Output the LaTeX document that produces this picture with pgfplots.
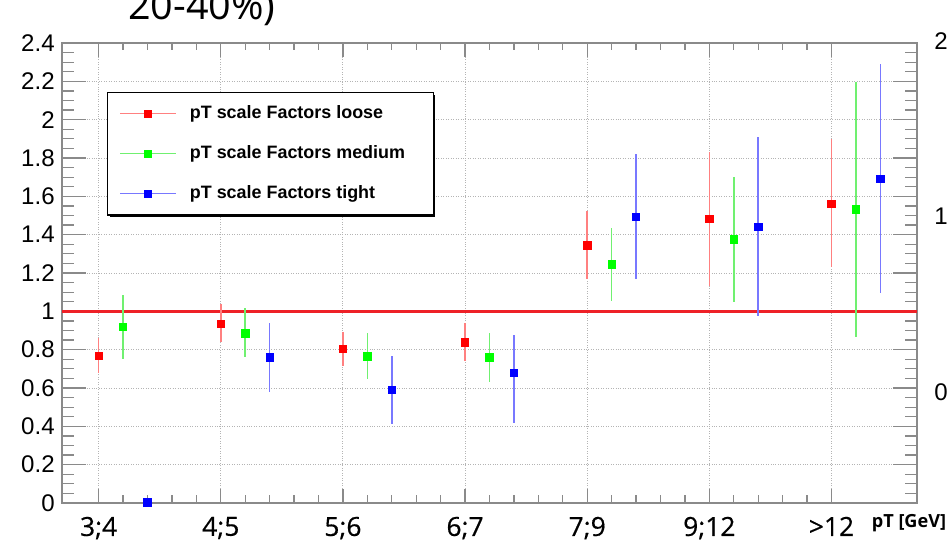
\documentclass[border=0pt]{standalone}
\usepackage{pgfplots}
\pgfplotsset{compat=1.18}
\usepackage{pgfplotstable}
\usepackage{fontspec}
\setmainfont{Liberation Sans}
\newfontfamily\osans{Open Sans}
\newfontfamily\osxlab[FakeBold=0.5]{Open Sans}

\definecolor{framegray}{HTML}{8A8A8A}
\definecolor{gridgray}{HTML}{B4B4B4}
\definecolor{lineRed}{HTML}{EE2127}
\definecolor{rootred}{HTML}{FF0000}
\definecolor{rootgreen}{HTML}{00FF00}
\definecolor{rootblue}{HTML}{0000FF}
\definecolor{barred}{HTML}{FF8080}
\definecolor{bargreen}{HTML}{70F070}
\definecolor{barblue}{HTML}{7878FF}

% x: category index (3;4 = 0), red at i, green at i+0.2, blue at i+0.4
\pgfplotstableread{
x    y     ep    em
0.0  0.767 0.092 0.087
1.0  0.935 0.103 0.097
2.0  0.805 0.089 0.089
3.0  0.838 0.099 0.097
4.0  1.344 0.179 0.177
5.0  1.481 0.348 0.349
6.0  1.560 0.339 0.330
}\loose
\pgfplotstableread{
x    y     ep    em
0.2  0.918 0.167 0.168
1.2  0.885 0.130 0.125
2.2  0.765 0.120 0.116
3.2  0.760 0.125 0.130
4.2  1.245 0.188 0.190
5.2  1.376 0.323 0.327
6.2  1.532 0.663 0.664
}\medium
\pgfplotstableread{
x    y     ep    em
0.4  0.003 0.0   0.0
1.4  0.760 0.177 0.183
2.4  0.589 0.176 0.177
3.4  0.680 0.196 0.261
4.4  1.494 0.325 0.327
5.4  1.442 0.469 0.466
6.4  1.690 0.598 0.596
}\tight

\begin{document}
\begin{tikzpicture}
\begin{axis}[
  scale only axis,
  width=17.1cm, height=9.2cm,
  clip=false,
  xmin=-0.3, xmax=6.7,
  ymin=0, ymax=2.4,
  xtick={0,1,2,3,4,5,6},
  xticklabels={3;4,4;5,5;6,6;7,7;9,9;12,>12},
  minor x tick num=4,
  ytick={0,0.2,...,2.4},
  yticklabels={0,0.2,0.4,0.6,0.8,1,1.2,1.4,1.6,1.8,2,2.2,2.4},
  minor y tick num=3,
  tick align=inside,
  axis line style={framegray, line width=0.9pt},
  every tick/.style={framegray, line width=0.7pt},
  x tick style={/pgfplots/major tick length=0.28cm, /pgfplots/minor tick length=0.15cm},
  y tick style={/pgfplots/major tick length=0.48cm, /pgfplots/minor tick length=0.24cm},
  grid=major,
  major grid style={gridgray, densely dotted, line width=0.5pt},
  yticklabel style={font=\fontsize{13.7}{16}\selectfont, inner xsep=0.14cm, inner ysep=0pt},
  xticklabel style={font=\osxlab\fontsize{15}{18}\selectfont, inner ysep=0pt, yshift=-0.27cm, text depth=0pt},
  xlabel={pT [GeV]},
  every axis x label/.style={at={(axis description cs:0.9906,-0.0435)}, anchor=center,
    font=\osans\bfseries\fontsize{10.3}{12}\selectfont},
  legend style={at={(0.0526,0.8935)}, anchor=north west,
    draw=black, line width=0.6pt, fill=white,
    inner xsep=0.24cm, inner ysep=0.25cm,
    font=\bfseries\fontsize{10.2}{12}\selectfont,
    nodes={inner sep=0pt, text height=0.27cm, text depth=0.08cm},
    row sep=0.45cm, column sep=0.26cm},
  legend cell align=left,
  error bars/y dir=both,
  error bars/y explicit,
  error bars/error mark=none,
]
\addplot[lineRed, line width=1.7pt, forget plot] coordinates {(-0.3,1) (6.7,1)};

% legend shadow (ROOT style)
\fill[black] ([xshift=0.07cm,yshift=-0.07cm]axis description cs:0.0526,0.6283)
  rectangle ([xshift=0.07cm,yshift=-0.07cm]axis description cs:0.4327,0.8935);

\addplot[only marks, mark=square*, mark size=2.1pt, rootred, mark options={draw=rootred, fill=rootred},
  error bars/error bar style={barred, line width=0.9pt},
  legend image code/.code={\draw[barred, line width=0.8pt] (0cm,0cm) -- (1.12cm,0cm);
    \fill[rootred] (0.56cm,0cm) +(-2.1pt,-2.1pt) rectangle +(2.1pt,2.1pt);}]
  table[x=x, y=y, y error plus=ep, y error minus=em] {\loose};
\addlegendentry{\makebox[4.64cm][l]{pT scale Factors loose}}

\addplot[only marks, mark=square*, mark size=2.1pt, rootgreen, mark options={draw=rootgreen, fill=rootgreen},
  error bars/error bar style={bargreen, line width=0.9pt},
  legend image code/.code={\draw[bargreen, line width=0.8pt] (0cm,0cm) -- (1.12cm,0cm);
    \fill[rootgreen] (0.56cm,0cm) +(-2.1pt,-2.1pt) rectangle +(2.1pt,2.1pt);}]
  table[x=x, y=y, y error plus=ep, y error minus=em] {\medium};
\addlegendentry{\makebox[4.64cm][l]{pT scale Factors medium}}

\addplot[only marks, mark=square*, mark size=2.1pt, rootblue, mark options={draw=rootblue, fill=rootblue},
  error bars/error bar style={barblue, line width=0.9pt},
  legend image code/.code={\draw[barblue, line width=0.8pt] (0cm,0cm) -- (1.12cm,0cm);
    \fill[rootblue] (0.56cm,0cm) +(-2.1pt,-2.1pt) rectangle +(2.1pt,2.1pt);}]
  table[x=x, y=y, y error plus=ep, y error minus=em] {\tight};
\addlegendentry{\makebox[4.64cm][l]{pT scale Factors tight}}

\node[anchor=base, font=\osans\fontsize{22.5}{26}\selectfont] at (axis description cs:0.1637,1.05) {20-40\%)};
\node[font=\fontsize{13.7}{16}\selectfont] at (axis description cs:1.028,1.004) {2};
\node[font=\fontsize{13.7}{16}\selectfont] at (axis description cs:1.028,0.623) {1};
\node[font=\fontsize{13.7}{16}\selectfont] at (axis description cs:1.028,0.241) {0};
\end{axis}
\pgfresetboundingbox
\path[use as bounding box] (-1.24,-0.74) rectangle (17.76,10.06);
\end{tikzpicture}
\end{document}
